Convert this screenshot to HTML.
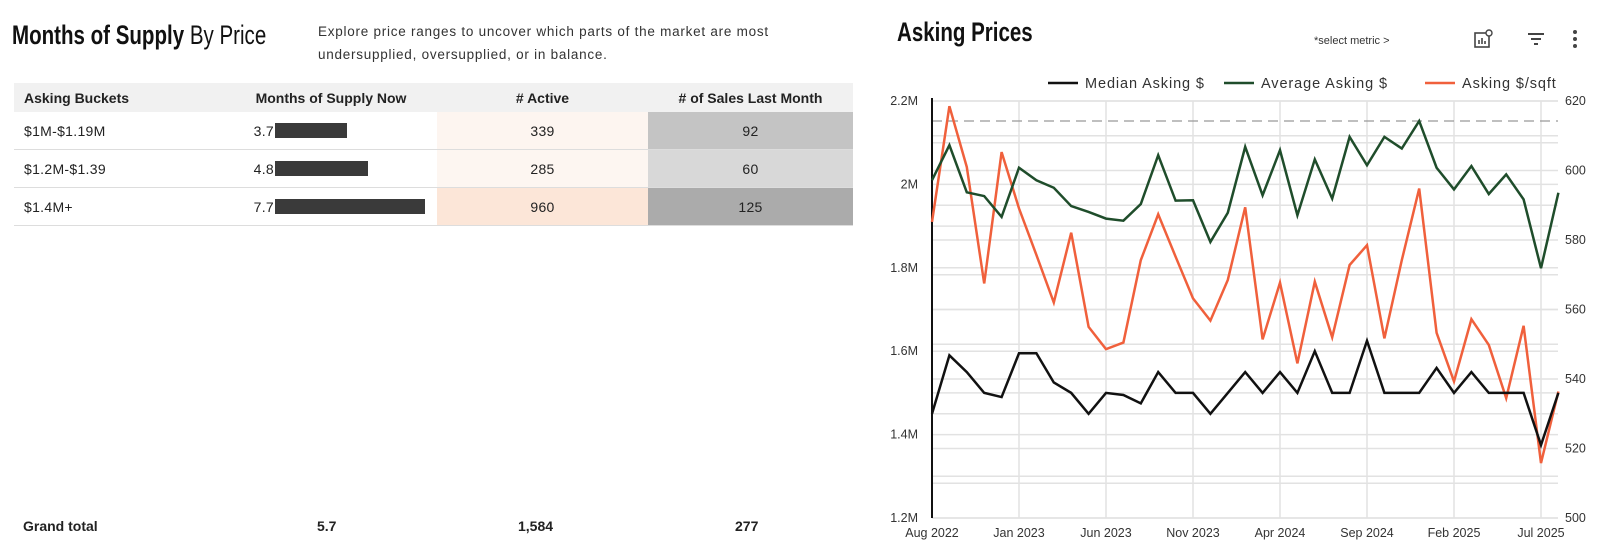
<!DOCTYPE html>
<html><head><meta charset="utf-8">
<style>
body{margin:0;width:1620px;height:556px;background:#fff;font-family:"Liberation Sans",sans-serif;color:#222;position:relative;overflow:hidden}
.abs{position:absolute}
.title{font-family:"Liberation Sans Narrow","Liberation Sans",sans-serif;font-weight:bold;font-size:27px;transform:scaleX(0.76);transform-origin:left top;white-space:nowrap;color:#111}
.desc{font-size:13.5px;line-height:23px;color:#333;letter-spacing:0.75px}
table{border-collapse:collapse;position:absolute;left:14px;top:83px;width:839px;font-size:14px;letter-spacing:0.3px}
th{background:#f1f1f1;height:27px;font-weight:bold;font-size:14px;text-align:center;letter-spacing:0}
td{height:35px;border-bottom:1px solid #ddd;text-align:center}
.mos{display:flex;align-items:center;height:35px;padding-left:8px}
.mos span.v{width:40px;text-align:right}
.bar{display:inline-block;height:15px;background:#3a3a3a;margin-left:1px}
</style></head><body>
<div class="abs title" style="left:12px;top:20px">Months of Supply <span style="font-weight:normal">By Price</span></div>
<div class="abs desc" style="left:318px;top:20px;width:500px">Explore price ranges to uncover which parts of the market are most<br>undersupplied, oversupplied, or in balance.</div>
<table>
<tr><th style="text-align:left;padding-left:10px;width:200px">Asking Buckets</th><th style="width:210px">Months of Supply Now</th><th style="width:209px"># Active</th><th># of Sales Last Month</th></tr>
<tr><td style="text-align:left;padding-left:10px">$1M-$1.19M</td><td style="text-align:left"><div class="mos"><span class="v">3.7</span><span class="bar" style="width:72px"></span></div></td><td style="background:#fdf5f0">339</td><td style="background:#c4c4c4">92</td></tr>
<tr><td style="text-align:left;padding-left:10px">$1.2M-$1.39</td><td style="text-align:left"><div class="mos"><span class="v">4.8</span><span class="bar" style="width:93px"></span></div></td><td style="background:#fdf6f1">285</td><td style="background:#d8d8d8">60</td></tr>
<tr><td style="text-align:left;padding-left:10px">$1.4M+</td><td style="text-align:left"><div class="mos"><span class="v">7.7</span><span class="bar" style="width:150px"></span></div></td><td style="background:#fce6d8">960</td><td style="background:#ababab">125</td></tr>
</table>
<div class="abs" style="left:23px;top:518px;font-weight:bold;font-size:14px">Grand total</div>
<div class="abs" style="left:317px;top:518px;font-weight:bold;font-size:14px">5.7</div>
<div class="abs" style="left:518px;top:518px;font-weight:bold;font-size:14px">1,584</div>
<div class="abs" style="left:735px;top:518px;font-weight:bold;font-size:14px">277</div>

<div class="abs title" style="left:897px;top:17px">Asking Prices</div>
<div class="abs" style="left:1314px;top:35px;font-size:11px;color:#333">*select metric &gt;</div>
<svg class="abs" style="left:1472px;top:28px" width="22" height="22"><rect x="3" y="5" width="14" height="14" fill="none" stroke="#444" stroke-width="1.6"/><path d="M7 16v-4M10 16v-6M13 16v-3" stroke="#444" stroke-width="1.6"/><circle cx="17" cy="5" r="3" fill="#fff" stroke="#444" stroke-width="1.4"/></svg>
<svg class="abs" style="left:1526px;top:30px" width="20" height="18"><path d="M2 4h16M5 9h10M8 14h4" stroke="#444" stroke-width="2"/></svg>
<svg class="abs" style="left:1570px;top:28px" width="10" height="22"><circle cx="5" cy="4" r="2" fill="#444"/><circle cx="5" cy="11" r="2" fill="#444"/><circle cx="5" cy="18" r="2" fill="#444"/></svg>

<svg id="chart" class="abs" style="left:0;top:0" width="1620" height="556"></svg>
<script>
const months=["Aug 2022","Jan 2023","Jun 2023","Nov 2023","Apr 2024","Sep 2024","Feb 2025","Jul 2025"];
const leftTicks=[1.2,1.4,1.6,1.8,2.0,2.2];
const leftTickLabels=["1.2M","1.4M","1.6M","1.8M","2M","2.2M"];
const rightTicks=[500,520,540,560,580,600,620];
const median=[1.45,1.59,1.55,1.50,1.49,1.595,1.595,1.525,1.50,1.45,1.50,1.495,1.475,1.55,1.50,1.50,1.45,1.50,1.55,1.50,1.55,1.50,1.60,1.50,1.50,1.625,1.50,1.50,1.50,1.56,1.50,1.55,1.50,1.50,1.50,1.375,1.50];
const average=[2.01,2.094,1.981,1.972,1.922,2.04,2.01,1.992,1.948,1.934,1.918,1.913,1.953,2.07,1.961,1.962,1.862,1.932,2.09,1.974,2.082,1.926,2.06,1.966,2.114,2.046,2.114,2.086,2.152,2.04,1.988,2.044,1.977,2.024,1.964,1.799,1.98];
const perSqft=[585.2,618.5,601.0,567.5,605.3,589.1,575.7,562.0,582.1,555.0,548.6,550.5,574.2,587.4,575.2,563.2,556.8,568.5,589.4,551.4,567.7,544.5,568.0,552.0,572.8,578.5,551.7,574.2,594.8,553.3,539.3,557.2,549.8,534.5,555.3,515.8,536.4];
const refLine=2.152;
const svg=document.getElementById('chart');
const NS="http://www.w3.org/2000/svg";
const X0=932,DX=17.4,YT=101,YB=518,R=1558;
const x=i=>X0+i*DX;
const yL=v=>YB-(v-1.2)/(2.2-1.2)*(YB-YT);
const yR=v=>YB-(v-500)/(620-500)*(YB-YT);
function mk(t,a){const e=document.createElementNS(NS,t);for(const k in a)e.setAttribute(k,a[k]);svg.appendChild(e);return e;}
for(let v=1.2;v<=2.21;v+=0.1){const g=mk('line',{x1:X0,x2:R,y1:yL(v),y2:yL(v),stroke:'#e2e2e2','stroke-width':1.5});

}
for(let v=500;v<=620;v+=10){const g=mk('line',{x1:X0,x2:R,y1:yR(v),y2:yR(v),stroke:'#e2e2e2','stroke-width':1.5});

}
months.forEach((m,k)=>{const xx=x(k*5);
if(k>0){const g=mk('line',{x1:xx,x2:xx,y1:YT,y2:YB,stroke:'#e2e2e2','stroke-width':1.5});

}
const t=mk('text',{x:xx,y:537,'text-anchor':'middle','font-size':12.5,fill:'#333'});t.textContent=m;

});
leftTicks.forEach((v,i)=>{const t=mk('text',{x:918,y:yL(v)+4,'text-anchor':'end','font-size':12.5,fill:'#333'});t.textContent=leftTickLabels[i];

});
rightTicks.forEach(v=>{const t=mk('text',{x:1565,y:yR(v)+4,'font-size':12.5,fill:'#333'});t.textContent=v;

});
const ref=mk('line',{x1:X0,x2:R,y1:yL(refLine),y2:yL(refLine),stroke:'#999','stroke-width':1.3,'stroke-dasharray':'10,6'});


const ax=mk('line',{x1:X0,x2:X0,y1:YT-3,y2:YB,stroke:'#111','stroke-width':2});


function series(arr,f,col,name){const p=mk('polyline',{points:arr.map((v,i)=>x(i)+','+f(v)).join(' '),fill:'none',stroke:col,'stroke-width':2.5,'stroke-linejoin':'miter'});

}
series(perSqft,yR,'#f0603c','asking-per-sqft-line');
series(average,yL,'#1f4d2b','average-asking-line');
series(median,yL,'#111','median-asking-line');
const leg=[["Median Asking $","#111",1048],["Average Asking $","#1f4d2b",1224],["Asking $/sqft","#f0603c",1425]];
leg.forEach(l=>{const ln=mk('line',{x1:l[2],x2:l[2]+30,y1:83,y2:83,stroke:l[1],'stroke-width':2.5});


const t=mk('text',{x:l[2]+37,y:88,'font-size':14.5,fill:'#333','letter-spacing':'0.9'});t.textContent=l[0];

});
</script>
</body></html>
